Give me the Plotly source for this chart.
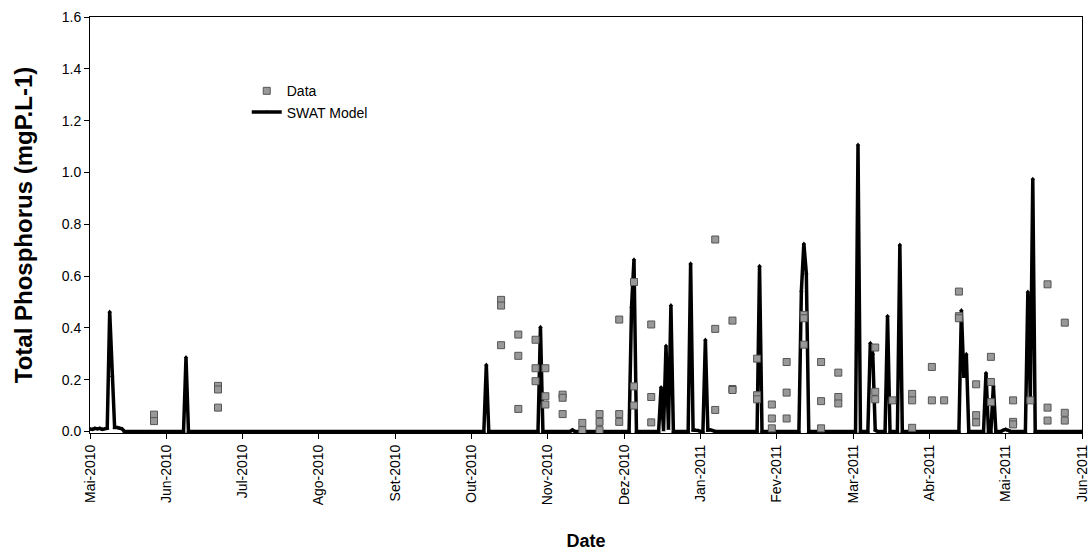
import plotly.graph_objects as go

# ---- Observed data (grey squares) ----
data_dates = [
    "2010-05-27", "2010-05-27",
    "2010-06-22", "2010-06-22", "2010-06-22",
    "2010-10-15", "2010-10-15", "2010-10-15",
    "2010-10-22", "2010-10-22", "2010-10-22",
    "2010-10-29", "2010-10-29", "2010-10-29",
    "2010-11-02", "2010-11-02", "2010-11-02",
    "2010-11-09", "2010-11-09", "2010-11-09",
    "2010-11-17", "2010-11-17",
    "2010-11-24", "2010-11-24", "2010-11-24",
    "2010-12-02", "2010-12-02", "2010-12-02",
    "2010-12-08", "2010-12-08", "2010-12-08",
    "2010-12-15", "2010-12-15", "2010-12-15",
    "2011-01-10", "2011-01-10", "2011-01-10",
    "2011-01-17", "2011-01-17", "2011-01-17",
    "2011-01-27", "2011-01-27", "2011-01-27",
    "2011-02-02", "2011-02-02", "2011-02-02",
    "2011-02-08", "2011-02-08", "2011-02-08",
    "2011-02-15", "2011-02-15", "2011-02-15",
    "2011-02-22", "2011-02-22", "2011-02-22",
    "2011-03-01", "2011-03-01", "2011-03-01",
    "2011-03-16", "2011-03-16", "2011-03-16",
    "2011-03-23",
    "2011-03-31", "2011-03-31", "2011-03-31",
    "2011-04-08", "2011-04-08",
    "2011-04-13",
    "2011-04-19", "2011-04-19", "2011-04-19",
    "2011-04-26", "2011-04-26", "2011-04-26",
    "2011-05-02", "2011-05-02", "2011-05-02",
    "2011-05-11", "2011-05-11", "2011-05-11",
    "2011-05-18",
    "2011-05-25", "2011-05-25", "2011-05-25",
    "2011-06-01", "2011-06-01", "2011-06-01",
]
data_values = [
    0.065, 0.040,
    0.176, 0.162, 0.092,
    0.508, 0.486, 0.333,
    0.374, 0.292, 0.087,
    0.354, 0.244, 0.194,
    0.244, 0.136, 0.104,
    0.142, 0.130, 0.067,
    0.033, 0.005,
    0.067, 0.037, 0.005,
    0.432, 0.067, 0.037,
    0.577, 0.174, 0.100,
    0.413, 0.133, 0.035,
    0.741, 0.396, 0.083,
    0.428, 0.164, 0.160,
    0.281, 0.140, 0.124,
    0.104, 0.050, 0.012,
    0.268, 0.150, 0.050,
    0.450, 0.437, 0.335,
    0.268, 0.117, 0.012,
    0.227, 0.133, 0.108,
    0.324, 0.153, 0.124,
    0.120,
    0.145, 0.120, 0.014,
    0.249, 0.120,
    0.120,
    0.540, 0.445, 0.437,
    0.182, 0.063, 0.035,
    0.288, 0.191, 0.113,
    0.120, 0.037, 0.027,
    0.120,
    0.568, 0.092, 0.042,
    0.420, 0.072, 0.042,
]

# ---- SWAT model (black line) ----
model_dates = [
    "2010-05-01", "2010-05-02", "2010-05-03", "2010-05-04", "2010-05-05",
    "2010-05-06", "2010-05-07", "2010-05-08", "2010-05-09", "2010-05-10",
    "2010-05-11", "2010-05-12", "2010-05-13", "2010-05-14", "2010-05-15",
    "2010-06-08", "2010-06-09", "2010-06-10",
    "2010-10-08", "2010-10-09", "2010-10-10",
    "2010-10-30", "2010-10-31", "2010-11-01",
    "2010-11-12", "2010-11-13", "2010-11-14",
    "2010-12-06", "2010-12-07", "2010-12-08", "2010-12-09",
    "2010-12-18", "2010-12-19", "2010-12-20", "2010-12-21", "2010-12-22",
    "2010-12-23", "2010-12-24",
    "2010-12-30", "2010-12-31", "2011-01-01", "2011-01-02", "2011-01-03",
    "2011-01-04", "2011-01-05", "2011-01-06", "2011-01-07", "2011-01-08",
    "2011-01-09", "2011-01-10",
    "2011-01-27", "2011-01-28", "2011-01-29",
    "2011-02-13", "2011-02-14", "2011-02-15", "2011-02-16", "2011-02-17",
    "2011-03-08", "2011-03-09", "2011-03-10",
    "2011-03-13", "2011-03-14", "2011-03-15", "2011-03-16", "2011-03-17",
    "2011-03-20", "2011-03-21", "2011-03-22",
    "2011-03-25", "2011-03-26", "2011-03-27",
    "2011-04-19", "2011-04-20", "2011-04-21", "2011-04-22", "2011-04-23",
    "2011-04-29", "2011-04-30", "2011-05-01", "2011-05-02", "2011-05-03",
    "2011-05-04",
    "2011-05-06", "2011-05-07", "2011-05-08", "2011-05-09", "2011-05-10",
    "2011-05-16", "2011-05-17", "2011-05-18", "2011-05-19", "2011-05-20",
    "2011-06-08",
]
model_values = [
    0.010, 0.008, 0.012, 0.010, 0.012,
    0.008, 0.010, 0.012, 0.463, 0.214,
    0.015, 0.015, 0.012, 0.010, 0.0,
    0.0, 0.287, 0.0,
    0.0, 0.258, 0.0,
    0.0, 0.404, 0.0,
    0.0, 0.006, 0.0,
    0.0, 0.480, 0.665, 0.0,
    0.0, 0.172, 0.005, 0.332, 0.010,
    0.488, 0.0,
    0.0, 0.649, 0.005, 0.006, 0.004,
    0.0, 0.0, 0.355, 0.005, 0.006,
    0.003, 0.0,
    0.0, 0.640, 0.0,
    0.0, 0.543, 0.726, 0.611, 0.0,
    0.0, 1.108, 0.0,
    0.0, 0.342, 0.300, 0.005, 0.0,
    0.0, 0.447, 0.0,
    0.0, 0.722, 0.0,
    0.0, 0.469, 0.210, 0.300, 0.0,
    0.0, 0.227, 0.0, 0.0, 0.178,
    0.0,
    0.0, 0.005, 0.008, 0.004, 0.0,
    0.0, 0.540, 0.120, 0.976, 0.0,
    0.0,
]

# ---- Axis ticks (Excel style: every 31 days) ----
tick_dates = [
    "2010-05-01", "2010-06-01", "2010-07-02", "2010-08-02", "2010-09-02",
    "2010-10-03", "2010-11-03", "2010-12-04", "2011-01-04", "2011-02-04",
    "2011-03-07", "2011-04-07", "2011-05-08", "2011-06-08",
]
tick_labels = [
    "Mai-2010", "Jun-2010", "Jul-2010", "Ago-2010", "Set-2010",
    "Out-2010", "Nov-2010", "Dez-2010", "Jan-2011", "Fev-2011",
    "Mar-2011", "Abr-2011", "Mai-2011", "Jun-2011",
]
y_ticks = [0.0, 0.2, 0.4, 0.6, 0.8, 1.0, 1.2, 1.4, 1.6]

FONT = "Liberation Sans, Arial, sans-serif"

fig = go.Figure()
fig.add_trace(go.Scatter(
    x=model_dates, y=model_values, mode="lines+markers", name="SWAT Model",
    line=dict(color="black", width=3.5),
    marker=dict(symbol="triangle-up", size=4, color="black"),
    legendrank=2,
))
fig.add_trace(go.Scatter(
    x=data_dates, y=data_values, mode="markers", name="Data",
    marker=dict(symbol="square", size=7, color="#999999",
                line=dict(color="#555555", width=1)),
    legendrank=1,
))

fig.update_layout(
    width=1092, height=558,
    margin=dict(l=90, r=10, t=17, b=125),
    paper_bgcolor="white", plot_bgcolor="white",
    font=dict(family=FONT, size=14, color="black"),
    showlegend=True,
    legend=dict(x=0.158, y=0.86, xanchor="left", yanchor="top",
                bgcolor="rgba(0,0,0,0)", font=dict(size=14, family=FONT),
                itemwidth=30, tracegroupgap=2),
    xaxis=dict(
        type="date", automargin=False,
        range=["2010-05-01", "2011-06-08"],
        tickvals=tick_dates, ticktext=tick_labels, tickangle=-90,
        ticks="outside", ticklen=5, tickcolor="black",
        showline=True, linecolor="black", linewidth=1, mirror=True,
        showgrid=False, zeroline=False,
        tickfont=dict(size=14, family=FONT),
        title=dict(text="<b>Date</b>", font=dict(size=18, family=FONT), standoff=30),
    ),
    yaxis=dict(
        automargin=False,
        range=[-0.006, 1.6],
        tickvals=y_ticks, tickformat=".1f",
        ticks="outside", ticklen=5, tickcolor="black",
        showline=True, linecolor="black", linewidth=1, mirror=True,
        showgrid=False, zeroline=False,
        tickfont=dict(size=14, family=FONT),
        title=dict(text="<b>Total Phosphorus (mgP.L-1)</b>",
                   font=dict(size=24, family=FONT), standoff=22),
    ),
)

fig.write_html("out.html")
